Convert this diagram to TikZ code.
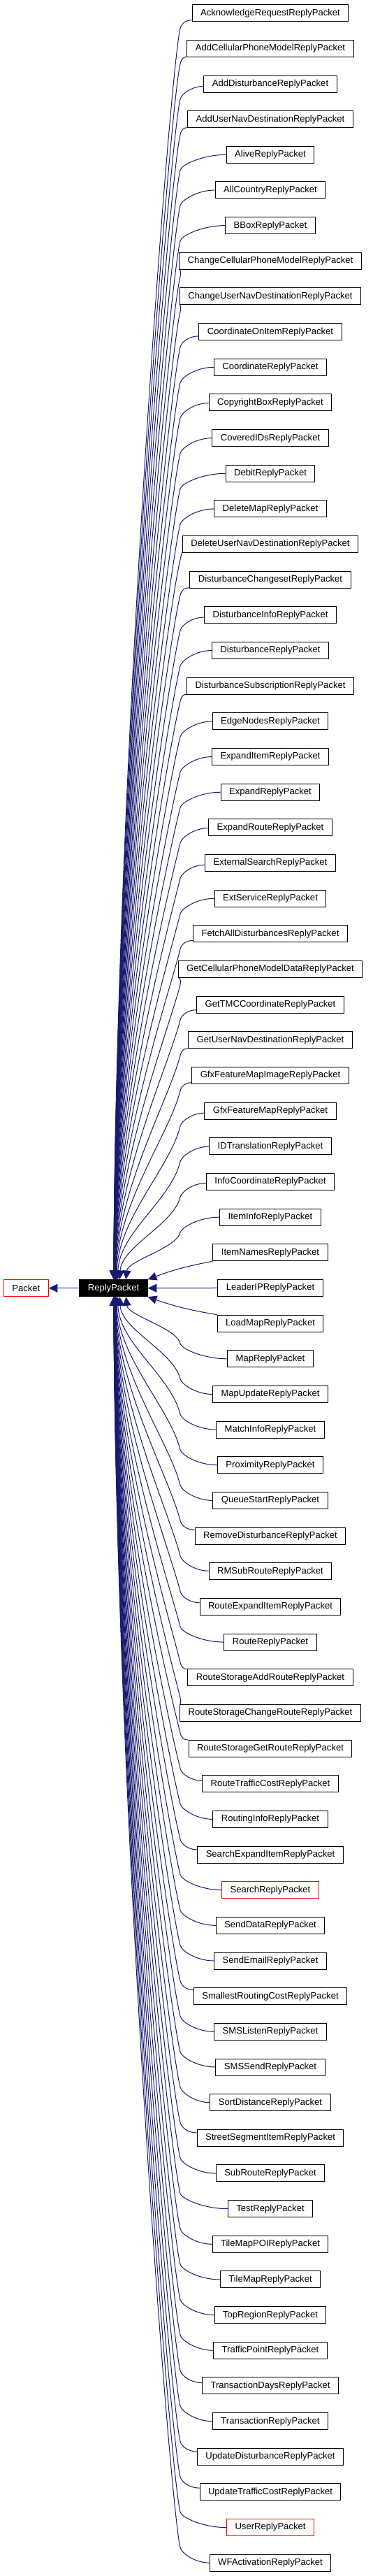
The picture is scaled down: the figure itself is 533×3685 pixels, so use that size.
\documentclass[tikz,border=0pt]{standalone}
\usepackage{fontspec}
\setmainfont{Liberation Sans}
\usetikzlibrary{arrows.meta}
\definecolor{navyline}{RGB}{25,25,112}
\tikzset{
  cls/.style={draw=black, line width=0.75pt, fill=white, minimum height=18pt,
    inner xsep=9pt, inner ysep=0pt, font=\fontsize{9.8}{11}\selectfont},
  clsred/.style={cls, draw=red},
  clsmain/.style={cls, fill=black, text=white},
  arr/.style={draw=navyline, line width=0.75pt, {Triangle[length=9.5pt,width=9pt]}-}
}
\def\classlist{AcknowledgeRequestReplyPacket/cls, AddCellularPhoneModelReplyPacket/cls,
AddDisturbanceReplyPacket/cls, AddUserNavDestinationReplyPacket/cls, AliveReplyPacket/cls,
AllCountryReplyPacket/cls, BBoxReplyPacket/cls, ChangeCellularPhoneModelReplyPacket/cls,
ChangeUserNavDestinationReplyPacket/cls, CoordinateOnItemReplyPacket/cls,
CoordinateReplyPacket/cls, CopyrightBoxReplyPacket/cls, CoveredIDsReplyPacket/cls,
DebitReplyPacket/cls, DeleteMapReplyPacket/cls, DeleteUserNavDestinationReplyPacket/cls,
DisturbanceChangesetReplyPacket/cls, DisturbanceInfoReplyPacket/cls,
DisturbanceReplyPacket/cls, DisturbanceSubscriptionReplyPacket/cls,
EdgeNodesReplyPacket/cls, ExpandItemReplyPacket/cls, ExpandReplyPacket/cls,
ExpandRouteReplyPacket/cls, ExternalSearchReplyPacket/cls, ExtServiceReplyPacket/cls,
FetchAllDisturbancesReplyPacket/cls, GetCellularPhoneModelDataReplyPacket/cls,
GetTMCCoordinateReplyPacket/cls, GetUserNavDestinationReplyPacket/cls,
GfxFeatureMapImageReplyPacket/cls, GfxFeatureMapReplyPacket/cls,
IDTranslationReplyPacket/cls, InfoCoordinateReplyPacket/cls, ItemInfoReplyPacket/cls,
ItemNamesReplyPacket/cls, LeaderIPReplyPacket/cls, LoadMapReplyPacket/cls,
MapReplyPacket/cls, MapUpdateReplyPacket/cls, MatchInfoReplyPacket/cls,
ProximityReplyPacket/cls, QueueStartReplyPacket/cls, RemoveDisturbanceReplyPacket/cls,
RMSubRouteReplyPacket/cls, RouteExpandItemReplyPacket/cls, RouteReplyPacket/cls,
RouteStorageAddRouteReplyPacket/cls, RouteStorageChangeRouteReplyPacket/cls,
RouteStorageGetRouteReplyPacket/cls, RouteTrafficCostReplyPacket/cls,
RoutingInfoReplyPacket/cls, SearchExpandItemReplyPacket/cls, SearchReplyPacket/clsred,
SendDataReplyPacket/cls, SendEmailReplyPacket/cls, SmallestRoutingCostReplyPacket/cls,
SMSListenReplyPacket/cls, SMSSendReplyPacket/cls, SortDistanceReplyPacket/cls,
StreetSegmentItemReplyPacket/cls, SubRouteReplyPacket/cls, TestReplyPacket/cls,
TileMapPOIReplyPacket/cls, TileMapReplyPacket/cls, TopRegionReplyPacket/cls,
TrafficPointReplyPacket/cls, TransactionDaysReplyPacket/cls,
TransactionReplyPacket/cls, UpdateDisturbanceReplyPacket/cls,
UpdateTrafficCostReplyPacket/cls, UserReplyPacket/clsred, WFActivationReplyPacket/cls}
\begin{document}
\begin{tikzpicture}[x=0.75pt,y=-0.75pt]
\useasboundingbox (0,0) rectangle (533,3685);
% base classes
\node[clsred] (Packet) at (37.3,1842.7) {Packet};
\node[clsmain] (RP) at (162.5,1842.7) {ReplyPacket};
\draw[arr] (Packet.east) -- (RP.west);
% derived classes
\foreach \name/\sty [count=\i from 0] in \classlist {
  \pgfmathsetmacro\yy{18.7+\i*50.66}
  \node[\sty] (\name) at (387,\yy) {\name};
}
% inheritance arrows
\foreach \name/\sty [count=\i from 0] in \classlist {
  \pgfmathtruncatemacro\d{\i-36}
  \ifnum\d=0
    \draw[arr] (RP.east) -- (\name.west);
  \else\ifnum\d=-1
    \draw[arr] (RP.north east) to[bend left=5] (\name.south west);
  \else\ifnum\d=1
    \draw[arr] (RP.south east) to[bend right=5] (\name.north west);
  \else
    \pgfpointanchor{\name}{west}\pgfgetlastxy{\xa}{\ya}
    \pgfmathsetmacro\xw{\xa/0.75}
    \pgfmathsetmacro\s{\d<0 ? 1 : -1}
    \pgfmathsetmacro\yi{18.7+\i*50.66}
    \pgfmathsetmacro\k{max(0,min(12,(300-\xw)/2.5))}
    \pgfmathsetmacro\sy{\yi+\s*\k}
    \pgfmathsetmacro\sh{-\s*\k*0.75}
    \pgfmathsetmacro\ky{\yi+\s*22}
    \pgfmathsetmacro\tx{165+18/(abs(\d)-1)}
    \pgfmathsetmacro\dx{(\tx-116)*0.75}
    \pgfmathsetmacro\ty{\d<0 ? 1830.2 : 1855.2}
    \pgfmathsetmacro\L{abs(\ty-\ky)}
    \pgfmathsetmacro\h{min(60,\L/3)}
    \pgfmathsetmacro\cay{\ty-\s*0.4*\L}
    \pgfmathsetmacro\cbx{258-0.25*\h}
    \pgfmathsetmacro\cby{\ky+\s*\h}
    \pgfmathsetmacro\ccy{\ky-\s*8}
    \pgfmathsetmacro\cdx{\xw-0.5*(\xw-258)}
    \ifnum\d<0 \def\anc{north west}\else\def\anc{south west}\fi
    \draw[arr] ([xshift=\dx pt]RP.\anc) .. controls (\tx,\cay) and (\cbx,\cby) .. (258,\ky)
      .. controls (260,\ccy) and (\cdx,\sy) .. ([yshift=\sh pt]\name.west);
  \fi\fi\fi
}
\end{tikzpicture}
\end{document}
